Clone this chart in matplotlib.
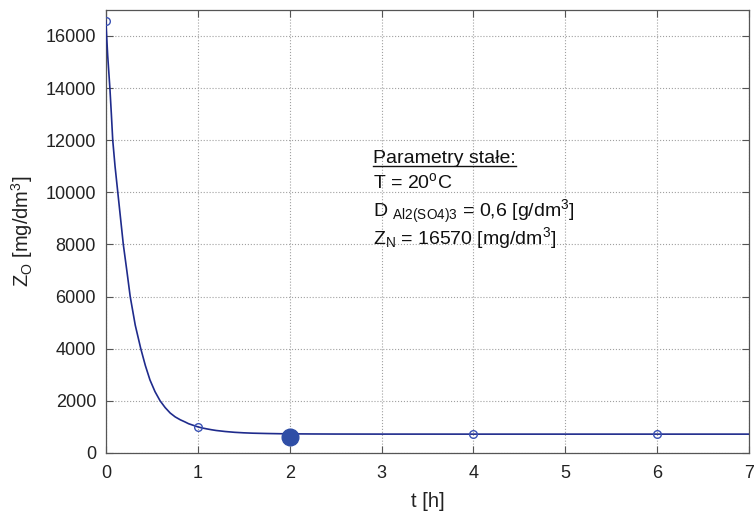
import matplotlib
matplotlib.use("Agg")
import matplotlib.pyplot as plt
from matplotlib.lines import Line2D

'''
Zawiesina ogolna Z_O w czasie sedymentacji, dawka Al2(SO4)3 0,6 g/dm3.
'''

# fitted curve
curve_t = [0.0, 0.02, 0.044, 0.06, 0.075, 0.1, 0.13, 0.16, 0.19, 0.23, 0.265, 0.32, 0.38, 0.43, 0.48,
           0.535, 0.59, 0.645, 0.70, 0.755, 0.81, 0.86, 0.9, 0.95, 1.0, 1.05, 1.1, 1.15, 1.2, 1.3,
           1.4, 1.5, 1.6, 1.75, 1.9, 2.0, 2.25, 2.5, 3.0, 4.0, 5.0, 6.0, 7.0]
curve_z = [16570, 15250, 14000, 13000, 12000, 11000, 10000, 9000, 8000, 6950, 6000, 4900, 4000, 3350, 2800,
           2350, 2000, 1740, 1530, 1380, 1270, 1190, 1120, 1060, 1000, 955, 920, 888, 860, 820,
           790, 770, 756, 744, 735, 731, 726, 723, 721, 720, 720, 720, 720]

# measured points
meas_t = [0, 1, 4, 6]
meas_z = [16570, 1000, 720, 710]

# highlighted point
hl_t = [2]
hl_z = [600]

params_lines = [
    "Parametry stałe:",
    r"T = 20$^{\mathrm{o}}$C",
    r"D $_{\mathrm{Al2(SO4)3}}$ = 0,6 [g/dm$^{3}$]",
    r"Z$_{\mathrm{N}}$ = 16570 [mg/dm$^{3}$]",
]
params_y = [11300, 10400, 9250, 8250]

plt.rcParams["font.family"] = ["Liberation Sans", "DejaVu Sans"]
plt.rcParams["mathtext.fontset"] = "custom"
plt.rcParams["mathtext.rm"] = "Liberation Sans"
plt.rcParams["mathtext.it"] = "Liberation Sans:italic"
plt.rcParams["mathtext.bf"] = "Liberation Sans:bold"


def main():
    fig = plt.figure(figsize=(7.56, 5.17), dpi=100)
    ax = fig.add_axes([0.140, 0.124, 0.851, 0.857])

    ax.plot(curve_t, curve_z, color="#1f2b8c", linewidth=1.2, zorder=3)
    ax.plot(meas_t, meas_z, "o", markersize=5.5, markerfacecolor="none",
            markeredgecolor="#3a52b4", markeredgewidth=1.0, zorder=4)
    ax.plot(hl_t, hl_z, "o", markersize=12, color="#2f4ea6", zorder=5)

    ax.set_xlim(0, 7)
    ax.set_ylim(0, 17000)
    ax.set_xticks(range(0, 8))
    ax.set_yticks(range(0, 16001, 2000))
    ax.tick_params(direction="in", length=5, top=True, right=True, labelsize=13,
                   color="#555555", labelcolor="#222222", pad=7)
    ax.tick_params(axis="x", pad=9)
    for sp in ax.spines.values():
        sp.set_color("#555555")
        sp.set_linewidth(0.9)
    ax.grid(linestyle=":", color="#a0a0a0", linewidth=0.8)

    ax.set_xlabel("t [h]", fontsize=14.5, color="#222222", labelpad=7)
    ax.set_ylabel(r"Z$_{\mathrm{O}}$ [mg/dm$^{3}$]", fontsize=14.5, color="#222222", labelpad=8)

    for txt, y in zip(params_lines, params_y):
        ax.text(2.91, y, txt, fontsize=14, color="#111111", va="center", ha="left")

    # underline the header
    fig.canvas.draw()
    head = ax.texts[0].get_window_extent()
    inv = fig.transFigure.inverted()
    (x0, y0), (x1, _) = inv.transform([(head.x0, head.y0 + 1), (head.x1, head.y0 + 1)])
    fig.add_artist(Line2D([x0, x1], [y0, y0], color="#111111", linewidth=1.0))

    fig.savefig("out.png", dpi=100)


if __name__ == "__main__":
    main()
